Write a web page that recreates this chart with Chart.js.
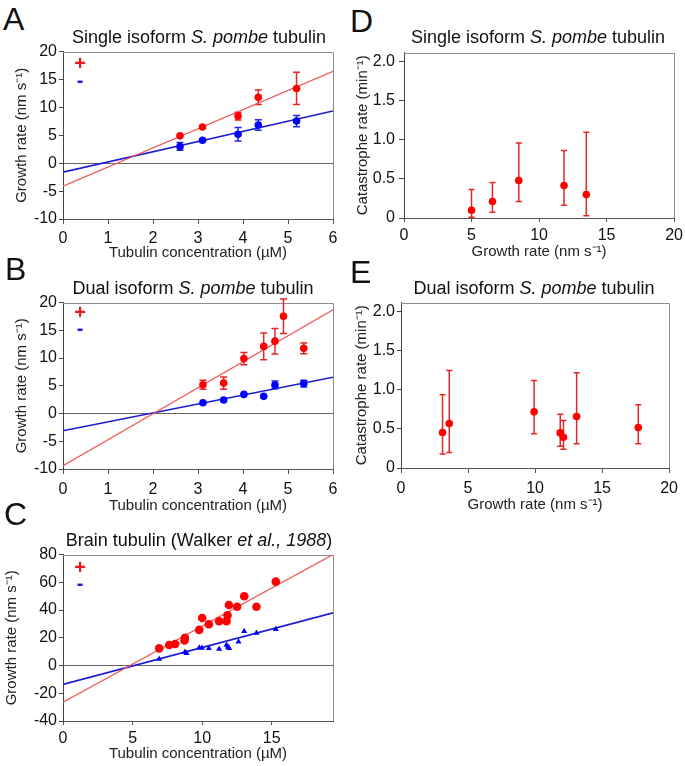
<!DOCTYPE html>
<html>
<head>
<meta charset="utf-8">
<script src="https://cdn.jsdelivr.net/npm/chart.js@4.4.0/dist/chart.umd.min.js"></script>
<style>
  body { margin: 0; background: #fff; }
  #fig { position: relative; width: 685px; height: 766px; overflow: hidden;
         font-family: "Liberation Sans", Arial, sans-serif; color: #111; }
  #fig canvas { position: absolute; }
  .letter { position: absolute; font-size: 32px; line-height: 32px; }
  .title { position: absolute; font-size: 18px; line-height: 18px; white-space: nowrap; transform: translateX(-50%); }
  .sign { position: absolute; font-weight: bold; font-size: 20px; line-height: 20px; transform: translate(-50%, -50%); }
  .plus { color: #f01818; }
  .minus { color: #1818e8; }
</style>
</head>
<body>
<div id="fig">
  <canvas id="chartA"></canvas>
  <canvas id="chartB"></canvas>
  <canvas id="chartC"></canvas>
  <canvas id="chartD"></canvas>
  <canvas id="chartE"></canvas>

  <div class="letter" style="left:3px; top:3px">A</div>
  <div class="letter" style="left:5px; top:253px">B</div>
  <div class="letter" style="left:4px; top:498px">C</div>
  <div class="letter" style="left:350px; top:5px">D</div>
  <div class="letter" style="left:350px; top:256px">E</div>

  <div class="title" style="left:199px; top:28px">Single isoform <i>S. pombe</i> tubulin</div>
  <div class="title" style="left:193px; top:279px">Dual isoform <i>S. pombe</i> tubulin</div>
  <div class="title" style="left:199px; top:531px">Brain tubulin (Walker <i>et al., 1988</i>)</div>
  <div class="title" style="left:538px; top:28px">Single isoform <i>S. pombe</i> tubulin</div>
  <div class="title" style="left:534px; top:279px">Dual isoform <i>S. pombe</i> tubulin</div>

  <div class="sign plus" style="left:80px; top:63px">+</div>
  <div class="sign minus" style="left:80px; top:80px">-</div>
  <div class="sign plus" style="left:80px; top:312px">+</div>
  <div class="sign minus" style="left:80px; top:328px">-</div>
  <div class="sign plus" style="left:80px; top:567px">+</div>
  <div class="sign minus" style="left:80px; top:583px">-</div>
</div>

<script>
const FONT = '"Liberation Sans", Arial, sans-serif';
const RED = '#ff0000';
const BLUE = '#0000ff';

// Panel A - single isoform, growth rate vs tubulin concentration
const aConc = [2.6, 3.1, 3.89, 4.34, 5.19];
const aPlus = [4.9, 6.5, 8.45, 11.8, 13.4];
const aPlusErr = [0, 0, 0.7, 1.3, 2.9];
const aMinus = [3.0, 4.1, 5.2, 6.85, 7.55];
const aMinusErr = [0.7, 0, 1.2, 0.95, 1.0];
const aFitX = [0, 6];
const aPlusFit = [-4.1, 16.45];
const aMinusFit = [-1.6, 9.35];

// Panel B - dual isoform
const bPlusConc = [3.11, 3.57, 4.02, 4.46, 4.71, 4.90, 5.35];
const bPlus = [5.2, 5.5, 9.9, 12.1, 13.05, 17.55, 11.75];
const bPlusErr = [0.8, 1.1, 1.1, 2.4, 2.3, 3.1, 0.95];
const bMinusConc = [3.11, 3.57, 4.02, 4.46, 4.71, 5.35];
const bMinus = [1.95, 2.45, 3.45, 3.1, 5.15, 5.4];
const bMinusErr = [0, 0, 0, 0, 0.7, 0.6];
const bFitX = [0, 6];
const bPlusFit = [-9.4, 18.7];
const bMinusFit = [-3.1, 6.55];

// Panel C - brain tubulin (Walker et al., 1988)
const cPlusConc = [6.91, 7.63, 8.06, 8.73, 8.76, 9.79, 10.0, 10.48, 11.22, 11.75, 11.82, 11.92, 12.51, 13.02, 13.9, 15.29];
const cPlus = [12.4, 14.8, 15.5, 18.1, 20.0, 25.7, 34.3, 29.8, 31.9, 31.9, 36.2, 43.6, 42.4, 50.0, 42.4, 60.5];
const cMinusConc = [6.91, 8.76, 8.88, 9.79, 9.98, 10.48, 11.22, 11.75, 11.85, 11.94, 12.61, 13.02, 13.9, 15.29];
const cMinus = [4.8, 9.8, 8.9, 12.9, 12.6, 12.4, 11.9, 14.8, 13.4, 12.4, 17.1, 24.8, 23.4, 26.2];
const cFitX = [0, 19.4];
const cPlusFit = [-26.5, 80];
const cMinusFit = [-13.6, 38];

// Panel D - catastrophe rate, single isoform (asymmetric bars)
const dGrowth = [5.0, 6.55, 8.5, 11.85, 13.5];
const dCat = [0.10, 0.21, 0.48, 0.415, 0.30];
const dLow = [0.01, 0.075, 0.21, 0.165, 0.03];
const dHigh = [0.365, 0.455, 0.96, 0.865, 1.10];

// Panel E - catastrophe rate, dual isoform
const eGrowth = [3.1, 3.6, 9.93, 11.88, 12.12, 13.1, 17.7];
const eCat = [0.455, 0.57, 0.72, 0.45, 0.395, 0.66, 0.52];
const eLow = [0.18, 0.20, 0.44, 0.28, 0.24, 0.31, 0.31];
const eHigh = [0.94, 1.25, 1.12, 0.69, 0.61, 1.22, 0.81];

const GROWTH_TITLE = 'Growth rate (nm s\u207B\u00B9)';
const CONC_TITLE = 'Tubulin concentration (\u00B5M)';
const CAT_TITLE = 'Catastrophe rate (min\u207B\u00B9)';

const pts = (xs, ys) => xs.map((x, i) => ({ x: x, y: ys[i] }));

function points(xs, ys, color, extra) {
  return Object.assign({
    data: pts(xs, ys),
    backgroundColor: color,
    borderWidth: 0,
    pointRadius: 3.8,
    pointHoverRadius: 3.8
  }, extra);
}

function fitLine(xs, ys, color, width) {
  return {
    data: pts(xs, ys),
    showLine: true,
    borderColor: color,
    borderWidth: width,
    pointRadius: 0
  };
}

// gray top/right frame of each plot box
const framePlugin = {
  id: 'frame',
  beforeDatasetsDraw(chart) {
    const { ctx, chartArea: a } = chart;
    ctx.save();
    ctx.strokeStyle = '#8c8c8c';
    ctx.lineWidth = 1;
    ctx.beginPath();
    ctx.moveTo(a.left, Math.round(a.top) + 0.5);
    ctx.lineTo(Math.round(a.right) + 0.5, Math.round(a.top) + 0.5);
    ctx.lineTo(Math.round(a.right) + 0.5, a.bottom);
    ctx.stroke();
    ctx.restore();
  }
};

// vertical error bars with caps, from errLow / errHigh on the dataset
const errorBarPlugin = {
  id: 'errorBars',
  beforeDatasetsDraw(chart) {
    const { ctx } = chart;
    const xs = chart.scales.x, ys = chart.scales.y;
    chart.data.datasets.forEach(ds => {
      if (!ds.errLow) return;
      ctx.save();
      ctx.strokeStyle = ds.errColor;
      ctx.lineWidth = 1.5;
      ds.data.forEach((p, j) => {
        if (ds.errHigh[j] - ds.errLow[j] <= 0) return;
        const x = xs.getPixelForValue(p.x);
        const y1 = ys.getPixelForValue(ds.errLow[j]);
        const y2 = ys.getPixelForValue(ds.errHigh[j]);
        const cap = ds.capHalf || 3.5;
        ctx.beginPath();
        ctx.moveTo(x, y1); ctx.lineTo(x, y2);
        ctx.moveTo(x - cap, y1); ctx.lineTo(x + cap, y1);
        ctx.moveTo(x - cap, y2); ctx.lineTo(x + cap, y2);
        ctx.stroke();
      });
      ctx.restore();
    });
  }
};

function symErr(ys, errs) {
  return {
    errLow: ys.map((y, i) => y - errs[i]),
    errHigh: ys.map((y, i) => y + errs[i])
  };
}

function panel(id, box, opt) {
  const canvas = document.getElementById(id);
  const L = box.left - box.yW, T = box.top - 10;
  const W = box.right + 12 - L, H = box.bottom + box.xH - T;
  canvas.width = W; canvas.height = H;
  canvas.style.width = W + 'px'; canvas.style.height = H + 'px';
  canvas.style.left = L + 'px'; canvas.style.top = T + 'px';

  new Chart(canvas, {
    type: 'scatter',
    data: { datasets: opt.datasets },
    options: {
      responsive: false,
      animation: false,
      events: [],
      layout: { padding: { top: 10, right: 12, bottom: 0, left: 0 } },
      plugins: { legend: { display: false }, tooltip: { enabled: false } },
      scales: {
        x: {
          type: 'linear', min: 0, max: opt.xMax,
          ticks: { stepSize: opt.xStep, includeBounds: false, autoSkip: false, maxRotation: 0,
                   padding: box.xPad, color: '#111', font: { size: 16, family: FONT } },
          grid: { drawOnChartArea: false, tickLength: box.xTick, tickColor: '#555' },
          border: { color: '#555' },
          title: { display: true, text: opt.xTitle, color: '#222', padding: 0,
                   font: { size: 15, family: FONT } },
          afterFit(s) { s.height = box.xH; }
        },
        y: {
          type: 'linear', min: opt.yMin, max: opt.yMax,
          ticks: { stepSize: opt.yStep, includeBounds: false, autoSkip: false,
                   padding: box.yPad, color: '#111', font: { size: 16, family: FONT },
                   callback: opt.yFormat || (v => String(v)) },
          grid: {
            color: c => (opt.zeroLine && c.tick && c.tick.value === 0) ? '#666' : 'rgba(0,0,0,0)',
            tickLength: box.yTick, tickColor: '#444'
          },
          border: { color: '#444' },
          title: { display: true, text: opt.yTitle, color: '#222', padding: 0,
                   font: { size: 15, family: FONT } },
          afterFit(s) { s.width = box.yW; }
        }
      }
    },
    plugins: [framePlugin, errorBarPlugin]
  });
}

const catFormat = v => (v === 0 ? '0' : v.toFixed(1));

panel('chartA',
  { left: 63, right: 333, top: 50, bottom: 219, yW: 50, xH: 43, xTick: 5, xPad: 5, yTick: 4, yPad: 2 },
  {
    xMax: 6, xStep: 1, yMin: -10, yMax: 20, yStep: 5, zeroLine: true,
    xTitle: CONC_TITLE, yTitle: GROWTH_TITLE,
    datasets: [
      points(aConc, aPlus, RED, Object.assign({ errColor: '#e52626' }, symErr(aPlus, aPlusErr))),
      points(aConc, aMinus, BLUE, Object.assign({ errColor: '#2626e0' }, symErr(aMinus, aMinusErr))),
      fitLine(aFitX, aPlusFit, '#f25555', 1.2),
      fitLine(aFitX, aMinusFit, '#1c1cd0', 1.6)
    ]
  });

panel('chartB',
  { left: 63, right: 333, top: 301, bottom: 469, yW: 50, xH: 46, xTick: 5, xPad: 6, yTick: 4, yPad: 2 },
  {
    xMax: 6, xStep: 1, yMin: -10, yMax: 20, yStep: 5, zeroLine: true,
    xTitle: CONC_TITLE, yTitle: GROWTH_TITLE,
    datasets: [
      points(bPlusConc, bPlus, RED, Object.assign({ errColor: '#e52626' }, symErr(bPlus, bPlusErr))),
      points(bMinusConc, bMinus, BLUE, Object.assign({ errColor: '#2626e0' }, symErr(bMinus, bMinusErr))),
      fitLine(bFitX, bPlusFit, '#f25555', 1.2),
      fitLine(bFitX, bMinusFit, '#1c1cd0', 1.6)
    ]
  });

panel('chartC',
  { left: 63, right: 333, top: 553, bottom: 721, yW: 60, xH: 42, xTick: 4, xPad: 4, yTick: 4, yPad: 2 },
  {
    xMax: 19.4, xStep: 5, yMin: -40, yMax: 80, yStep: 20, zeroLine: true,
    xTitle: CONC_TITLE, yTitle: GROWTH_TITLE,
    datasets: [
      points(cPlusConc, cPlus, RED, { pointRadius: 4.3 }),
      points(cMinusConc, cMinus, BLUE, { pointStyle: 'triangle', pointRadius: 3.5 }),
      fitLine(cFitX, cPlusFit, '#f25555', 1.2),
      fitLine(cFitX, cMinusFit, '#1c1cd0', 1.6)
    ]
  });

panel('chartD',
  { left: 404, right: 675, top: 49, bottom: 218, yW: 50, xH: 43, xTick: 4, xPad: 4, yTick: 5, yPad: 4 },
  {
    xMax: 20, xStep: 5, yMin: 0, yMax: 2.12, yStep: 0.5, zeroLine: false, yFormat: catFormat,
    xTitle: GROWTH_TITLE, yTitle: CAT_TITLE,
    datasets: [
      points(dGrowth, dCat, RED, { errColor: '#e52626', errLow: dLow, errHigh: dHigh, capHalf: 3 })
    ]
  });

panel('chartE',
  { left: 401, right: 672, top: 301, bottom: 468, yW: 48, xH: 46, xTick: 5, xPad: 6, yTick: 4, yPad: 2 },
  {
    xMax: 20, xStep: 5, yMin: 0, yMax: 2.12, yStep: 0.5, zeroLine: false, yFormat: catFormat,
    xTitle: GROWTH_TITLE, yTitle: CAT_TITLE,
    datasets: [
      points(eGrowth, eCat, RED, { errColor: '#e52626', errLow: eLow, errHigh: eHigh, capHalf: 3 })
    ]
  });
</script>
</body>
</html>
